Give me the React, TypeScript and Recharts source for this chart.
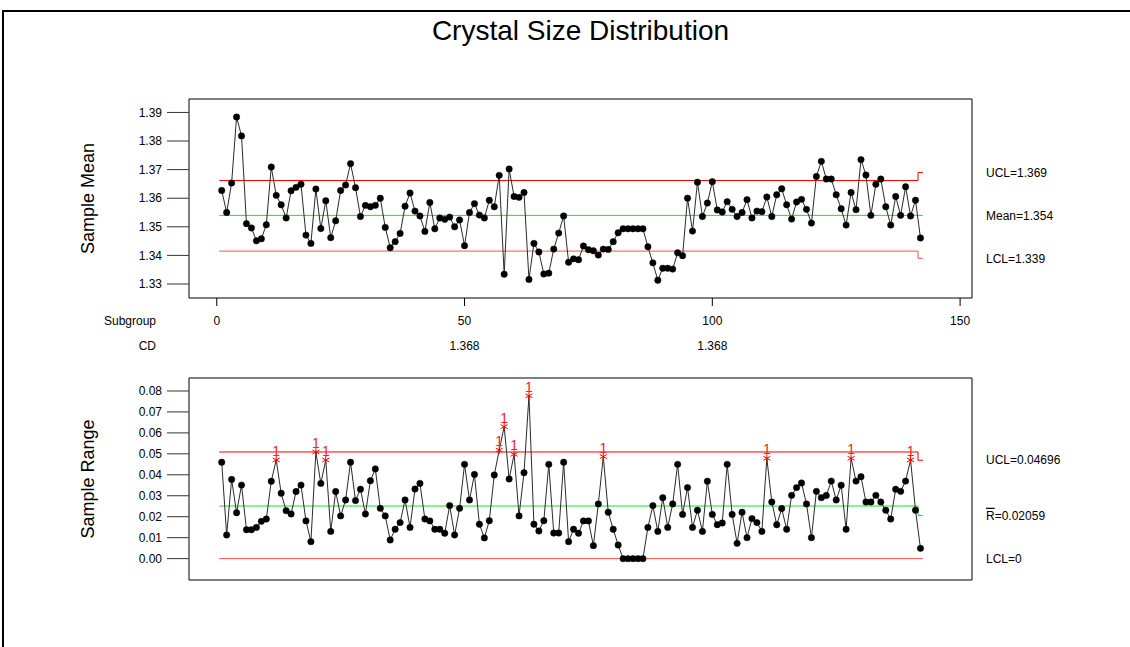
import React from 'react';
import { LineChart, Line, XAxis, YAxis, ReferenceArea } from 'recharts';

const FONT = '"Liberation Sans", Arial, sans-serif';

// ---- axis ticks / labels ----
const subgroupTicks = [0, 50, 100, 150];
const cdTickSubgroups = [50, 100];
const cdTickLabels = ['1.368', '1.368'];
const meanTicks = [1.33, 1.34, 1.35, 1.36, 1.37, 1.38, 1.39];
const rangeTicks = [0, 0.01, 0.02, 0.03, 0.04, 0.05, 0.06, 0.07, 0.08];

// ---- series values (subgroups 1..142) ----
const sampleMeans = [
  1.3627, 1.355, 1.3653, 1.3884, 1.3818, 1.3511, 1.3496, 1.3451, 1.3458, 1.3507,
  1.3709, 1.361, 1.3577, 1.3531, 1.3626, 1.3638, 1.3649, 1.3471, 1.3442, 1.3632,
  1.3494, 1.3591, 1.3462, 1.3521, 1.3627, 1.3646, 1.3721, 1.3637, 1.3536, 1.3575,
  1.357, 1.3575, 1.36, 1.3498, 1.3427, 1.3448, 1.3477, 1.3572, 1.3618, 1.3555,
  1.3538, 1.3484, 1.3585, 1.3493, 1.3531, 1.3526, 1.3534, 1.35, 1.3524, 1.3434,
  1.355, 1.3581, 1.3541, 1.3531, 1.3593, 1.357, 1.368, 1.3334, 1.3702, 1.3606,
  1.3603, 1.362, 1.3316, 1.3442, 1.3412, 1.3335, 1.3338, 1.3422, 1.3478, 1.3538,
  1.3376, 1.3388, 1.3385, 1.3433, 1.342, 1.3416, 1.3401, 1.3422, 1.3421, 1.3448,
  1.3479, 1.3493, 1.3493, 1.3493, 1.3493, 1.3493, 1.343, 1.3374, 1.3313, 1.3355,
  1.3355, 1.3352, 1.3409, 1.3399, 1.36, 1.3485, 1.3656, 1.3536, 1.3583, 1.3658,
  1.3559, 1.3552, 1.3588, 1.3561, 1.3536, 1.355, 1.3595, 1.3531, 1.3555, 1.3553,
  1.3604, 1.3536, 1.3612, 1.3633, 1.3577, 1.3527, 1.3587, 1.3596, 1.3561, 1.3513,
  1.3676, 1.3729, 1.3667, 1.3667, 1.3612, 1.3563, 1.3506, 1.362, 1.356, 1.3735,
  1.3681, 1.354, 1.3649, 1.3667, 1.357, 1.3506, 1.3606, 1.354, 1.364, 1.3538,
  1.3593, 1.3461,
];

const sampleRanges = [
  0.046, 0.0113, 0.0378, 0.0219, 0.0351, 0.0138, 0.0138, 0.0149, 0.0178, 0.0189,
  0.0369, 0.0471, 0.0312, 0.0229, 0.0213, 0.032, 0.0351, 0.018, 0.0081, 0.0509,
  0.0359, 0.0471, 0.013, 0.032, 0.0204, 0.028, 0.046, 0.0277, 0.0331, 0.0213,
  0.0372, 0.0428, 0.024, 0.0204, 0.0089, 0.014, 0.0172, 0.028, 0.0149, 0.0332,
  0.0359, 0.0189, 0.018, 0.014, 0.014, 0.0121, 0.0253, 0.0113, 0.024, 0.045,
  0.028, 0.0402, 0.0164, 0.0099, 0.0181, 0.0399, 0.0518, 0.063, 0.038, 0.0498,
  0.0204, 0.041, 0.0777, 0.0164, 0.0132, 0.0181, 0.045, 0.0122, 0.0122, 0.046,
  0.0081, 0.014, 0.0121, 0.018, 0.018, 0.0062, 0.0261, 0.0487, 0.0221, 0.014,
  0.0065, 0, 0, 0, 0, 0, 0.0149, 0.0253, 0.013, 0.0291,
  0.0149, 0.0261, 0.045, 0.0211, 0.0339, 0.0149, 0.0231, 0.013, 0.0369, 0.0211,
  0.0162, 0.017, 0.045, 0.0211, 0.0073, 0.0221, 0.01, 0.0191, 0.0172, 0.013,
  0.0479, 0.027, 0.0162, 0.0239, 0.014, 0.0302, 0.0339, 0.0361, 0.0261, 0.01,
  0.0321, 0.0291, 0.0301, 0.037, 0.028, 0.035, 0.014, 0.0479, 0.037, 0.0391,
  0.027, 0.027, 0.0302, 0.027, 0.0231, 0.0189, 0.0331, 0.0321, 0.037, 0.0471,
  0.0231, 0.0049,
];

const flaggedSubgroups = [12, 20, 22, 57, 58, 60, 63, 78, 111, 128, 140];

// ---- control limits (step change for the last subgroup) ----
const limitSteps = [0.5, 141.5, 142.5];
const meanUCL = [1.3662, 1.369];
const meanCenter = [1.354, 1.354];
const meanLCL = [1.3415, 1.339];
const rangeUCL = [0.0509, 0.04696];
const rangeCenter = [0.0251, 0.02059];
const rangeLCL = [0, 0];

const meanLabelValues = [1.369, 1.354, 1.339];
const meanLabelTexts = ['UCL=1.369', 'Mean=1.354', 'LCL=1.339'];
const rangeLabelValues = [0.04696, 0.02059, 0];
const rangeLabelTexts = ['UCL=0.04696', 'R=0.02059', 'LCL=0'];

const xDomain = [-5.6, 152.4];
const meanDomain = [1.3251, 1.3947];
const rangeDomain = [-0.0102, 0.0862];

const meanData = sampleMeans.map((y, i) => ({ x: i + 1, y }));
const rangeData = sampleRanges.map((y, i) => ({ x: i + 1, y }));
const stepData = (lv: number[]) => [
  { x: limitSteps[0], y: lv[0] },
  { x: limitSteps[1], y: lv[0] },
  { x: limitSteps[1], y: lv[1] },
  { x: limitSteps[2], y: lv[1] },
];

const TICK_FS = 12;

const LeftTick = (props: any) => {
  const { x, y, payload } = props;
  return (
    <text x={x} y={y} dy="0.355em" textAnchor="end" fontSize={TICK_FS} fill="#000" fontFamily={FONT}>
      {Number(payload.value).toFixed(2)}
    </text>
  );
};

const makeRightTick = (values: number[], texts: string[]) => (props: any) => {
  const { x, y, payload } = props;
  const idx = values.findIndex((v) => Math.abs(v - payload.value) < 1e-9);
  const t = idx >= 0 ? texts[idx] : '';
  if (t.startsWith('R=')) {
    return (
      <text x={x} y={y} dy="0.355em" textAnchor="start" fontSize={TICK_FS} fill="#000" fontFamily={FONT}>
        <tspan style={{ textDecoration: 'overline' }}>R</tspan>
        {t.slice(1)}
      </text>
    );
  }
  return (
    <text x={x} y={y} dy="0.355em" textAnchor="start" fontSize={TICK_FS} fill="#000" fontFamily={FONT}>
      {t}
    </text>
  );
};

const SubgroupTick = (props: any) => {
  const { x, y, payload } = props;
  const ci = cdTickSubgroups.indexOf(payload.value);
  return (
    <g>
      <text x={x} y={y} dy="0.71em" textAnchor="middle" fontSize={TICK_FS} fill="#000" fontFamily={FONT}>
        {payload.value}
      </text>
      {ci >= 0 && (
        <text x={x} y={y + 25} dy="0.71em" textAnchor="middle" fontSize={TICK_FS} fill="#000" fontFamily={FONT}>
          {cdTickLabels[ci]}
        </text>
      )}
      {payload.value === 0 && (
        <>
          <text x={156} y={y} dy="0.71em" textAnchor="end" fontSize={TICK_FS} fill="#000" fontFamily={FONT}>
            Subgroup
          </text>
          <text x={156} y={y + 25} dy="0.71em" textAnchor="end" fontSize={TICK_FS} fill="#000" fontFamily={FONT}>
            CD
          </text>
        </>
      )}
    </g>
  );
};

const RangeDot = (props: any) => {
  const { cx, cy, payload, index } = props;
  if (cx == null || cy == null) return <g key={index} />;
  if (flaggedSubgroups.includes(payload.x)) {
    return (
      <g key={index}>
        <line x1={cx} y1={cy - 4} x2={cx} y2={cy + 4} stroke="#ff0000" strokeWidth={1} />
        <line x1={cx - 3.5} y1={cy - 2} x2={cx + 3.5} y2={cy + 2} stroke="#ff0000" strokeWidth={1} />
        <line x1={cx - 3.5} y1={cy + 2} x2={cx + 3.5} y2={cy - 2} stroke="#ff0000" strokeWidth={1} />
        <text x={cx} y={cy - 4} textAnchor="middle" fontSize={14} fill="#ff2020" fontFamily={FONT}>
          1
        </text>
      </g>
    );
  }
  return <circle key={index} cx={cx} cy={cy} r={3.2} fill="#000" stroke="#000" strokeWidth={0.5} />;
};

const MeanDot = (props: any) => {
  const { cx, cy, index } = props;
  if (cx == null || cy == null) return <g key={index} />;
  return <circle key={index} cx={cx} cy={cy} r={3.2} fill="#000" stroke="#000" strokeWidth={0.5} />;
};

const LINE_COLOR = '#2a2a2a';
const RED = '#ff0000';
const LRED = '#ff5050';
const GREEN = '#22dd22';

export default function App() {
  return (
    <div
      style={{
        position: 'absolute',
        left: 0,
        top: 0,
        width: 1130,
        height: 647,
        overflow: 'hidden',
        background: '#fff',
        fontFamily: FONT,
      }}
    >
      <div
        style={{
          position: 'absolute',
          left: 2,
          top: 10,
          width: 1126,
          height: 637,
          borderLeft: '2px solid #000',
          borderTop: '2px solid #000',
        }}
      />
      <div
        style={{
          position: 'absolute',
          left: 180,
          width: 801,
          top: 14,
          textAlign: 'center',
          fontSize: 28,
          lineHeight: '34px',
          color: '#000',
          fontFamily: FONT,
          whiteSpace: 'nowrap',
        }}
      >
        Crystal Size Distribution
      </div>

      {/* Xbar chart */}
      <div style={{ position: 'absolute', left: 0, top: 0 }}>
        <LineChart width={1130} height={360} data={meanData} margin={{ top: 99, right: 0, bottom: 0, left: 83 }}>
          <XAxis
            dataKey="x"
            type="number"
            domain={xDomain}
            allowDataOverflow
            ticks={subgroupTicks}
            interval={0}
            height={62}
            tickSize={8}
            tickMargin={10}
            axisLine={false}
            tickLine={{ stroke: '#000' }}
            tick={<SubgroupTick />}
          />
          <YAxis
            yAxisId="left"
            type="number"
            domain={meanDomain}
            allowDataOverflow
            ticks={meanTicks}
            interval={0}
            width={106}
            tickSize={22}
            tickMargin={5}
            axisLine={false}
            tickLine={{ stroke: '#333' }}
            tick={<LeftTick />}
            label={{
              value: 'Sample Mean',
              angle: -90,
              position: 'insideLeft',
              offset: 5,
              style: { textAnchor: 'middle', fontSize: 18, fill: '#000', fontFamily: FONT },
            }}
          />
          <YAxis
            yAxisId="right"
            orientation="right"
            type="number"
            domain={meanDomain}
            allowDataOverflow
            ticks={meanLabelValues}
            interval={0}
            width={158}
            tickSize={7}
            tickMargin={7}
            axisLine={false}
            tickLine={false}
            tick={makeRightTick(meanLabelValues, meanLabelTexts)}
          />
          <Line yAxisId="left" data={stepData(meanUCL)} dataKey="y" stroke={RED} strokeWidth={1} dot={false} isAnimationActive={false} />
          <Line yAxisId="left" data={stepData(meanLCL)} dataKey="y" stroke={LRED} strokeWidth={1} dot={false} isAnimationActive={false} />
          <Line yAxisId="left" data={stepData(meanCenter)} dataKey="y" stroke={GREEN} strokeWidth={1} dot={false} isAnimationActive={false} />
          <Line yAxisId="left" data={meanData} dataKey="y" stroke={LINE_COLOR} strokeWidth={1} dot={<MeanDot />} isAnimationActive={false} />
          <ReferenceArea
            yAxisId="left"
            x1={xDomain[0]}
            x2={xDomain[1]}
            y1={meanDomain[0]}
            y2={meanDomain[1]}
            fill="none"
            stroke="#000"
            strokeWidth={1}
            ifOverflow="visible"
          />
        </LineChart>
      </div>

      {/* R chart */}
      <div style={{ position: 'absolute', left: 0, top: 360 }}>
        <LineChart width={1130} height={287} data={rangeData} margin={{ top: 8, right: 0, bottom: 67, left: 83 }}>
          <XAxis
            dataKey="x"
            type="number"
            orientation="top"
            domain={xDomain}
            allowDataOverflow
            ticks={subgroupTicks}
            interval={0}
            height={10}
            tickSize={10}
            axisLine={false}
            tickLine={{ stroke: '#000' }}
            tick={false}
          />
          <YAxis
            yAxisId="left"
            type="number"
            domain={rangeDomain}
            allowDataOverflow
            ticks={rangeTicks}
            interval={0}
            width={106}
            tickSize={22}
            tickMargin={5}
            axisLine={false}
            tickLine={{ stroke: '#333' }}
            tick={<LeftTick />}
            label={{
              value: 'Sample Range',
              angle: -90,
              position: 'insideLeft',
              offset: 5,
              style: { textAnchor: 'middle', fontSize: 18, fill: '#000', fontFamily: FONT },
            }}
          />
          <YAxis
            yAxisId="right"
            orientation="right"
            type="number"
            domain={rangeDomain}
            allowDataOverflow
            ticks={rangeLabelValues}
            interval={0}
            width={158}
            tickSize={7}
            tickMargin={7}
            axisLine={false}
            tickLine={false}
            tick={makeRightTick(rangeLabelValues, rangeLabelTexts)}
          />
          <Line yAxisId="left" data={stepData(rangeUCL)} dataKey="y" stroke={RED} strokeWidth={1} dot={false} isAnimationActive={false} />
          <Line yAxisId="left" data={stepData(rangeLCL)} dataKey="y" stroke={LRED} strokeWidth={1} dot={false} isAnimationActive={false} />
          <Line yAxisId="left" data={stepData(rangeCenter)} dataKey="y" stroke={GREEN} strokeWidth={1} dot={false} isAnimationActive={false} />
          <Line yAxisId="left" data={rangeData} dataKey="y" stroke={LINE_COLOR} strokeWidth={1} dot={<RangeDot />} isAnimationActive={false} />
          <ReferenceArea
            yAxisId="left"
            x1={xDomain[0]}
            x2={xDomain[1]}
            y1={rangeDomain[0]}
            y2={rangeDomain[1]}
            fill="none"
            stroke="#000"
            strokeWidth={1}
            ifOverflow="visible"
          />
        </LineChart>
      </div>
    </div>
  );
}
